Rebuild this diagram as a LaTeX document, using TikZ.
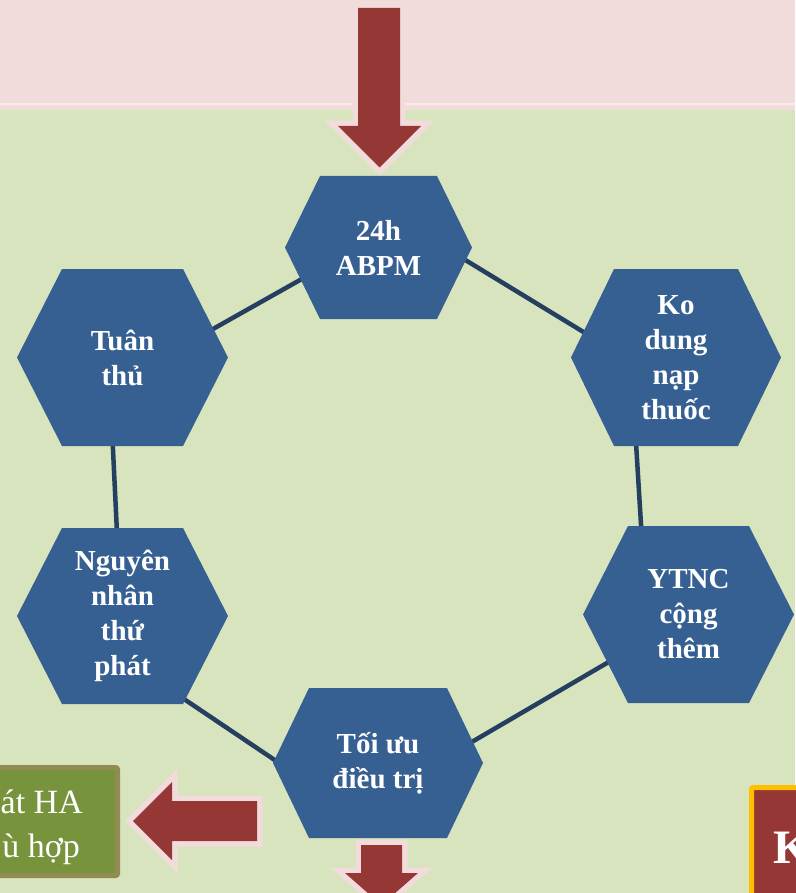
\documentclass[tikz,border=0pt]{standalone}
\usepackage{fontspec}
\setmainfont{Liberation Serif}
\usetikzlibrary{calc}

\definecolor{bgGreen}{HTML}{D7E4BD}
\definecolor{bandPink}{HTML}{F2DCDB}
\definecolor{bandLine}{HTML}{F9ECEC}
\definecolor{hexBlue}{HTML}{376092}
\definecolor{ringNavy}{HTML}{243F60}
\definecolor{arrowRed}{HTML}{953735}
\definecolor{boxGreen}{HTML}{77933C}
\definecolor{boxOlive}{HTML}{948A54}
\definecolor{boxGold}{HTML}{FFC000}

\tikzset{
  hexfill/.style={fill=hexBlue},
  hextext/.style={text=white, align=center, inner sep=0pt,
    font=\bfseries\fontsize{29}{35}\selectfont},
  ringline/.style={draw=ringNavy, line width=4.5pt},
  arrowrim/.style={draw=bandPink, line width=11pt, line join=miter, miter limit=4},
  arrowbody/.style={fill=arrowRed},
  sidetext/.style={text=white, inner sep=0pt, font=\fontsize{34}{44}\selectfont},
}

% hexagon: name, centre x, centre y, half width, half height, slant, label
\newcommand{\hexa}[7]{%
  \fill[hexfill] ({#2-#4},#3) -- ({#2-#4+#6},{#3-#5}) -- ({#2+#4-#6},{#3-#5})
    -- ({#2+#4},#3) -- ({#2+#4-#6},{#3+#5}) -- ({#2-#4+#6},{#3+#5}) -- cycle;
  \node[hextext] (#1) at (#2,#3) {#7};}

\begin{document}
\begin{tikzpicture}[x=1pt, y=-1pt]
  \useasboundingbox (0,0) rectangle (795,893);

  % background areas
  \fill[bgGreen] (0,0) rectangle (795,893);
  \fill[bandPink] (0,0) rectangle (795,110);
  \draw[bandLine, line width=1.5pt] (0,104) -- (795,104);

  % ring joining the six steps
  \coordinate (r1) at (403,222);
  \coordinate (r2) at (631,361);
  \coordinate (r3) at (648,639);
  \coordinate (r4) at (352,812);
  \coordinate (r5) at (123,658);
  \coordinate (r6) at (110,387);
  \draw[ringline] (r1) -- (r2) -- (r3) -- (r4) -- (r5) -- (r6) -- cycle;

  % the six steps
  \hexa{abpm}{378.5}{247.5}{93.5}{71.5}{35}{24h\\ABPM}
  \hexa{tuanthu}{122.5}{357.5}{105.5}{88.5}{45}{Tuân\\thủ}
  \hexa{kodung}{676}{357.5}{105}{88.5}{43}{Ko\\dung\\nạp\\thuốc}
  \hexa{nguyennhan}{122.5}{616}{105.5}{88}{45}{Nguyên\\nhân\\thứ\\phát}
  \hexa{ytnc}{688.5}{614.5}{105.5}{88.5}{45}{YTNC\\cộng\\thêm}
  \hexa{toiuu}{378}{763}{105}{75}{36}{Tối ưu\\điều trị}

  % arrow coming in from above
  \def\toparrow{(358,8) -- (400,8) -- (400,126) -- (421,126) -- (379.5,167.5)
    -- (338,126) -- (358,126) -- cycle}
  \draw[arrowrim] \toparrow;
  \fill[arrowbody] \toparrow;

  % arrow leaving below
  \def\botarrow{(361,845) -- (402,845) -- (402,873) -- (418,873) -- (381.5,905)
    -- (345,873) -- (361,873) -- cycle}
  \draw[arrowrim] \botarrow;
  \fill[arrowbody] \botarrow;

  % arrow pointing to the left box
  \def\leftarrow{(257,801) -- (172,801) -- (172,782) -- (133,821) -- (172,860)
    -- (172,841) -- (257,841) -- cycle}
  \draw[arrowrim] \leftarrow;
  \fill[arrowbody] \leftarrow;

  % left outcome box
  \draw[draw=boxOlive, fill=boxGreen, line width=5pt, rounded corners=2pt]
    (-20,767.5) rectangle (117.5,875.5);
  \node[sidetext, anchor=base east] (leftA) at (83,813) {át HA};
  \node[sidetext, anchor=base east] (leftB) at (80,857) {ù hợp};

  % right outcome box
  \draw[draw=boxGold, fill=arrowRed, line width=5pt, rounded corners=2pt]
    (751.5,787.5) rectangle (830,930);
  \node[text=white, inner sep=0pt, anchor=base west,
    font=\bfseries\fontsize{48}{56}\selectfont] (rightK) at (773,863) {K};
\end{tikzpicture}
\end{document}
